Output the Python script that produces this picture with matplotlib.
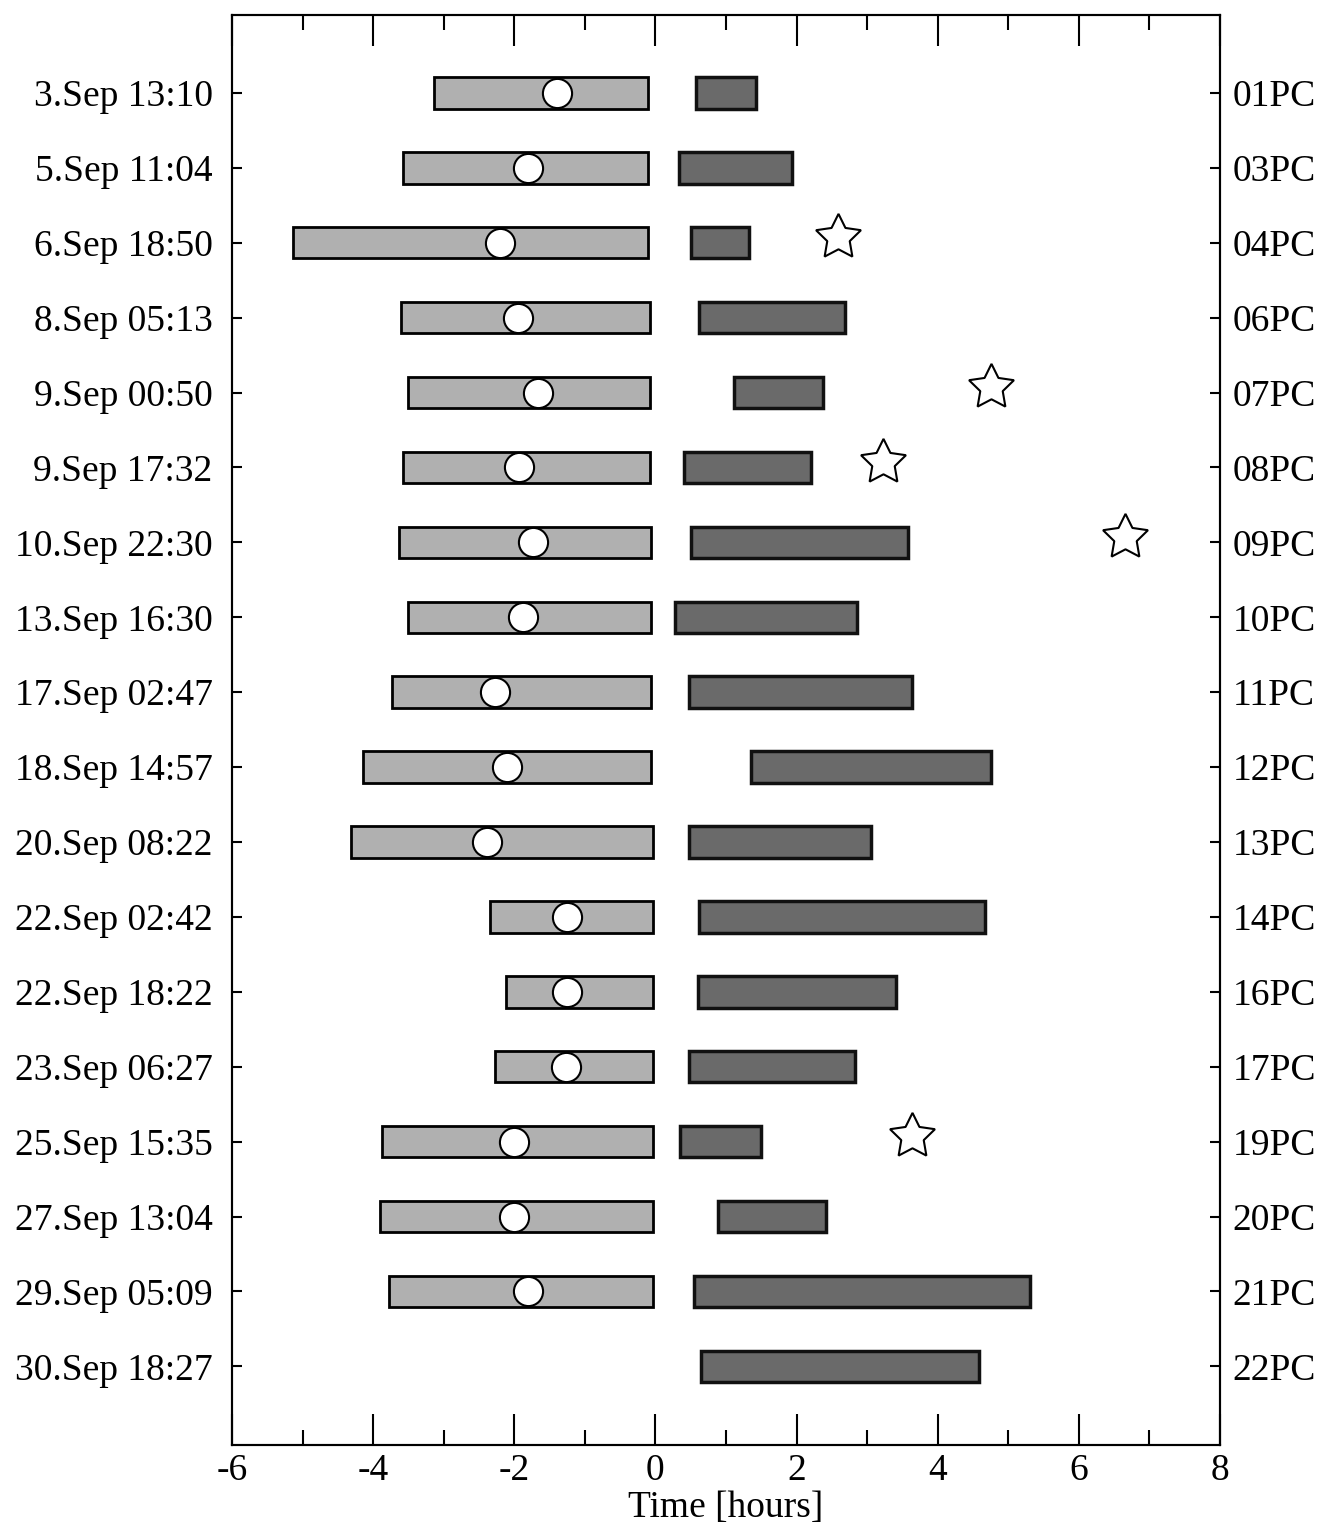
import numpy as np
import matplotlib
matplotlib.use("Agg")
import matplotlib.pyplot as plt
from matplotlib.ticker import MultipleLocator

plt.rcParams['font.family'] = ['Liberation Serif', 'DejaVu Serif']
plt.rcParams['axes.unicode_minus'] = False

dates = ["3.Sep 13:10", "5.Sep 11:04", "6.Sep 18:50", "8.Sep 05:13", "9.Sep 00:50",
         "9.Sep 17:32", "10.Sep 22:30", "13.Sep 16:30", "17.Sep 02:47", "18.Sep 14:57",
         "20.Sep 08:22", "22.Sep 02:42", "22.Sep 18:22", "23.Sep 06:27", "25.Sep 15:35",
         "27.Sep 13:04", "29.Sep 05:09", "30.Sep 18:27"]
pcs = ["01PC", "03PC", "04PC", "06PC", "07PC", "08PC", "09PC", "10PC", "11PC", "12PC",
       "13PC", "14PC", "16PC", "17PC", "19PC", "20PC", "21PC", "22PC"]

nan = np.nan
# light bars (before 0), white circle inside
pre_start = [-3.14, -3.57, -5.13, -3.61, -3.50, -3.58, -3.64, -3.50, -3.73, -4.14,
             -4.32, -2.35, -2.12, -2.28, -3.87, -3.90, -3.78, nan]
pre_end = [-0.10, -0.10, -0.10, -0.07, -0.07, -0.07, -0.06, -0.06, -0.06, -0.06,
           -0.04, -0.04, -0.04, -0.04, -0.03, -0.03, -0.03, nan]
circle_x = [-1.39, -1.81, -2.20, -1.95, -1.66, -1.94, -1.73, -1.88, -2.27, -2.10,
            -2.38, -1.26, -1.26, -1.27, -2.01, -2.00, -1.81, nan]
# dark bars (after 0)
post_start = [0.58, 0.34, 0.50, 0.62, 1.12, 0.41, 0.51, 0.28, 0.48, 1.35,
              0.47, 0.62, 0.61, 0.47, 0.35, 0.88, 0.55, 0.65]
post_end = [1.43, 1.93, 1.33, 2.69, 2.38, 2.20, 3.58, 2.85, 3.63, 4.75,
            3.05, 4.67, 3.41, 2.83, 1.50, 2.42, 5.31, 4.59]
# stars
star_rows = [2, 4, 5, 6, 14]
star_x = [2.59, 4.76, 3.22, 6.66, 3.63]

y = np.arange(len(dates))
pre_start = np.array(pre_start)
pre_end = np.array(pre_end)
post_start = np.array(post_start)
post_end = np.array(post_end)

fig = plt.figure(figsize=(13.21, 15.31), dpi=100)
ax = fig.add_axes([232 / 1321, 1 - 1445 / 1531, 988 / 1321, 1430 / 1531])

ok = ~np.isnan(pre_start)
ax.barh(y[ok], (pre_end - pre_start)[ok], left=pre_start[ok], height=0.42,
        color='#b0b0b0', edgecolor='black', linewidth=2, zorder=2)
ax.barh(y, post_end - post_start, left=post_start, height=0.42,
        color='#6a6a6a', edgecolor='#111111', linewidth=2.5, zorder=2)
ax.plot(circle_x, y, 'o', ms=21, mfc='white', mec='black', mew=1.5, zorder=3)
ax.plot(star_x, [y[r] - 0.07 for r in star_rows], marker=(5, 1, 0), ls='none', ms=34,
        mfc='white', mec='black', mew=1.5, zorder=3)

ax.set_xlim(-6, 8)
ax.set_ylim(18.05, -1.04)
ax.xaxis.set_major_locator(MultipleLocator(2))
ax.xaxis.set_minor_locator(MultipleLocator(1))
ax.set_yticks(y)
ax.set_yticklabels(dates)
ax.tick_params(axis='x', which='major', direction='in', length=22, width=1.5,
               top=True, labelsize=27, pad=6)
ax.tick_params(axis='x', which='minor', direction='in', length=11, width=1.5, top=True)
ax.tick_params(axis='y', direction='in', length=7, width=1.5, labelsize=27, pad=14)
ax.set_xlabel('Time [hours]', fontsize=27, labelpad=2)
for s in ax.spines.values():
    s.set_linewidth(1.5)

ax2 = ax.twinx()
ax2.set_ylim(ax.get_ylim())
ax2.set_yticks(y)
ax2.set_yticklabels(pcs)
ax2.tick_params(axis='y', direction='in', length=7, width=1.5, labelsize=27, pad=9)
for s in ax2.spines.values():
    s.set_linewidth(1.5)

fig.savefig('out.png', dpi=100)
